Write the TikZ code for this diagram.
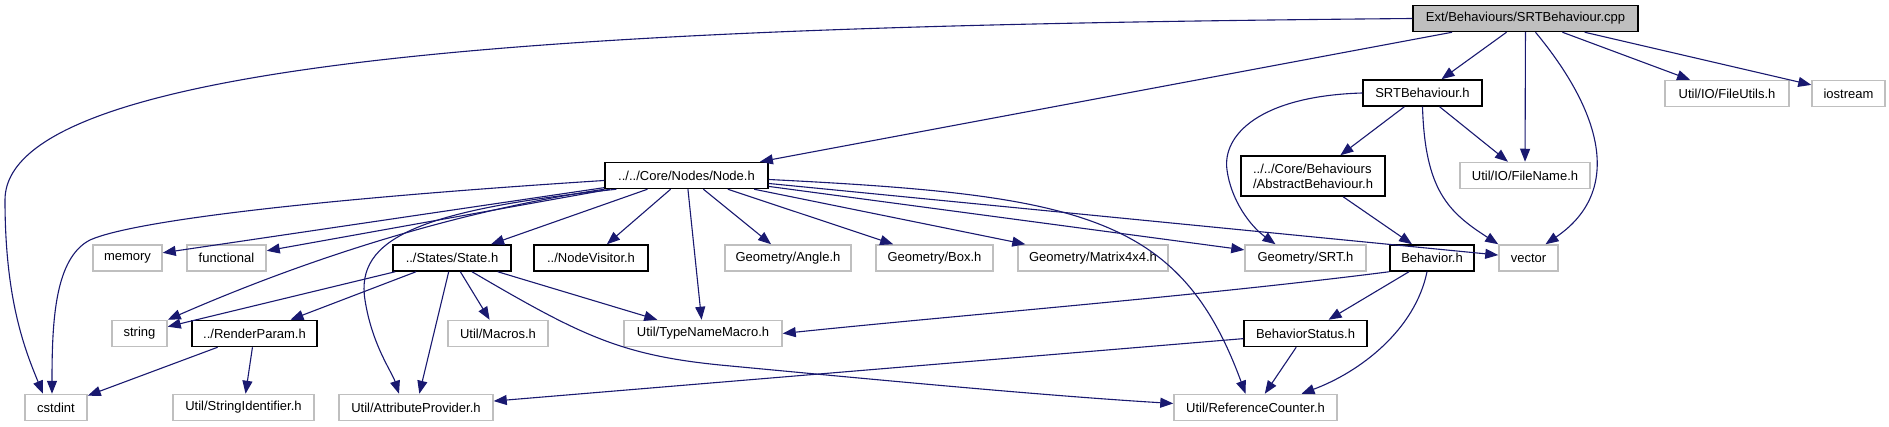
\documentclass[tikz,border=0pt]{standalone}
\usepackage{fontspec}
\setmainfont{Liberation Sans}
\usetikzlibrary{arrows.meta}
\definecolor{incblue}{RGB}{25,25,112}
\definecolor{sysgray}{RGB}{191,191,191}
\tikzset{
    filebox/.style={draw, line width=1.5pt, minimum height=26pt, inner sep=0pt,
        font=\fontsize{13}{15}\selectfont},
    hdr/.style={filebox, draw=black},
    sysinc/.style={filebox, draw=sysgray},
    srcfile/.style={filebox, draw=black, fill=sysgray},
    incarrow/.style={draw=incblue, line width=1.1pt, -{Triangle[length=13pt, width=10pt]}}
}
\begin{document}
\begin{tikzpicture}[x=1pt, y=-1pt]
        % Background and size of the picture
        \fill[white] (0, 0) rectangle (1889, 427);

        % The source file
        \node[srcfile, minimum width=225pt] (ext) at (1525.5, 18.5) {Ext/Behaviours/SRTBehaviour.cpp};

        % Second row
        \node[hdr, minimum width=119pt] (srth) at (1422.5, 93) {SRTBehaviour.h};
        \node[sysinc, minimum width=124pt] (fileutils) at (1727, 93.5) {Util/IO/FileUtils.h};
        \node[sysinc, minimum width=73pt] (iostream) at (1848.5, 93.5) {iostream};

        % Third row
        \node[hdr, minimum width=163pt] (nodeh) at (686.5, 175.5) {../../Core/Nodes/Node.h};
        \node[hdr, minimum width=144pt, minimum height=40pt, align=left] (abstract) at (1313, 176)
            {../../Core/Behaviours\\/AbstractBehaviour.h};
        \node[sysinc, minimum width=130pt] (filename) at (1525, 175.5) {Util/IO/FileName.h};

        % Fourth row
        \node[sysinc, minimum width=69pt] (memory) at (127.5, 258) {memory};
        \node[sysinc, minimum width=79pt] (functional) at (226.5, 258) {functional};
        \node[hdr, minimum width=118pt] (state) at (452, 258) {../States/State.h};
        \node[hdr, minimum width=114pt] (nodevisitor) at (591, 258) {../NodeVisitor.h};
        \node[sysinc, minimum width=126pt] (angleh) at (788, 258) {Geometry/Angle.h};
        \node[sysinc, minimum width=117pt] (boxh) at (934.5, 258) {Geometry/Box.h};
        \node[sysinc, minimum width=150pt] (matrixh) at (1093, 258) {Geometry/Matrix4x4.h};
        \node[sysinc, minimum width=121pt] (srtg) at (1305.5, 258) {Geometry/SRT.h};
        \node[hdr, minimum width=84pt] (behavior) at (1432, 258) {Behavior.h};
        \node[sysinc, minimum width=59pt] (vector) at (1528.5, 258) {vector};

        % Fifth row
        \node[sysinc, minimum width=55pt] (string) at (139.5, 333.5) {string};
        \node[hdr, minimum width=125pt] (renderparam) at (254.5, 333.5) {../RenderParam.h};
        \node[sysinc, minimum width=100pt] (macros) at (498, 333.5) {Util/Macros.h};
        \node[sysinc, minimum width=158pt] (typename) at (703, 333.5) {Util/TypeNameMacro.h};
        \node[hdr, minimum width=123pt] (behaviorstatus) at (1305.5, 333.5) {BehaviorStatus.h};

        % Last row
        \node[sysinc, minimum width=62pt] (cstdint) at (56, 407.5) {cstdint};
        \node[sysinc, minimum width=141pt] (stringid) at (243.5, 407.5) {Util/StringIdentifier.h};
        \node[sysinc, minimum width=154pt] (attrib) at (416, 407.5) {Util/AttributeProvider.h};
        \node[sysinc, minimum width=163pt] (refcount) at (1255.5, 407.5) {Util/ReferenceCounter.h};

        % Straight include arrows
        \foreach \a/\b in {
            ext/srth, ext/filename, ext/fileutils, ext/iostream, ext/nodeh,
            srth/abstract, srth/filename, abstract/behavior,
            nodeh/memory, nodeh/functional, nodeh/state, nodeh/nodevisitor,
            nodeh/typename, nodeh/angleh, nodeh/boxh, nodeh/matrixh, nodeh/srtg, nodeh/vector,
            state/string, state/renderparam, state/attrib, state/macros, state/typename,
            renderparam/cstdint, renderparam/stringid,
            behavior/behaviorstatus, behaviorstatus/attrib, behaviorstatus/refcount}
        \draw[incarrow] (\a) -- (\b);

        % Curved include arrows
        \draw[incarrow] (ext.west) .. controls (700, 25) and (5, 45) .. (5, 200)
            .. controls (5, 300) and (25, 350) .. ([xshift=-13pt]cstdint.north);
        \draw[incarrow] ([xshift=10pt]ext.south) .. controls (1600, 110) and (1625, 190) .. ([xshift=17pt]vector.north);
        \draw[incarrow] (srth.south) .. controls (1425, 190) and (1448, 212) .. (vector.north west);
        \draw[incarrow] (srth.west) .. controls (1260, 96) and (1222, 135) .. (1227, 170)
            .. controls (1231, 200) and (1250, 226) .. ([xshift=-30pt]srtg.north);
        \draw[incarrow] ([yshift=-5pt]nodeh.west) .. controls (300, 200) and (130, 222) .. (90, 240)
            .. controls (55, 258) and (52, 320) .. ([xshift=-4pt]cstdint.north);
        \draw[incarrow] (nodeh.south west) .. controls (450, 212) and (300, 262) .. (string.north east);
        \draw[incarrow] ([xshift=12pt]nodeh.south west) .. controls (420, 210) and (355, 238) .. (365, 300)
            .. controls (372, 345) and (392, 372) .. ([xshift=-17pt]attrib.north);
        \draw[incarrow] ([yshift=-4pt]nodeh.east) .. controls (1080, 195) and (1180, 215) .. ([xshift=-10pt]refcount.north);
        \draw[incarrow] ([xshift=20pt]state.south) .. controls (580, 335) and (620, 355) .. (720, 365)
            .. controls (900, 382) and (1050, 396) .. ([yshift=4pt]refcount.west);
        \draw[incarrow] (behavior.south west) .. controls (1200, 296) and (950, 316) .. (typename.east);
        \draw[incarrow] ([xshift=-5pt]behavior.south) .. controls (1415, 330) and (1360, 372) .. ([xshift=46pt]refcount.north);
    \end{tikzpicture}
\end{document}
